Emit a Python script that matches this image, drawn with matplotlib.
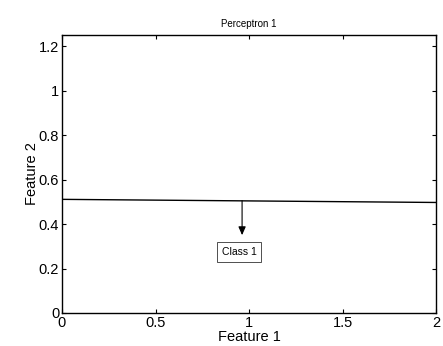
import matplotlib
matplotlib.use('Agg')
import matplotlib.pyplot as plt

plt.rcParams['font.family'] = ['Liberation Sans', 'DejaVu Sans']

# decision boundary end points
line_x = [0, 2]
line_y = [0.511, 0.497]

arrow_start = (0.963, 0.505)
arrow_end = (0.963, 0.35)
label_pos = (0.947, 0.274)
label_text = 'Class 1'

xticks = [0, 0.5, 1, 1.5, 2]
xticklabels = ['0', '0.5', '1', '1.5', '2']
yticks = [0, 0.2, 0.4, 0.6, 0.8, 1, 1.2]
yticklabels = ['0', '0.2', '0.4', '0.6', '0.8', '1', '1.2']

fig = plt.figure(figsize=(4.43, 3.46), dpi=100)
ax = fig.add_axes([62/443, 1 - 313/346, 374/443, 278/346])

ax.plot(line_x, line_y, color='black', linewidth=1)
ax.annotate('', xy=arrow_end, xytext=arrow_start,
            arrowprops=dict(arrowstyle='-|>,head_length=0.5,head_width=0.22', color='black', lw=0.8,
                            mutation_scale=10, shrinkA=0, shrinkB=0))
ax.text(label_pos[0], label_pos[1], label_text, ha='center', va='center', fontsize=7.5,
        bbox=dict(boxstyle='square,pad=0.45', facecolor='white', edgecolor='#333333', linewidth=0.6))

ax.set_xlim(0, 2)
ax.set_ylim(0, 1.25)
ax.set_xticks(xticks)
ax.set_xticklabels(xticklabels)
ax.set_yticks(yticks)
ax.set_yticklabels(yticklabels)
ax.tick_params(direction='in', top=True, right=True, length=3, labelsize=10.5, pad=2)
for s in ax.spines.values():
    s.set_linewidth(1)

ax.set_xlabel('Feature 1', fontsize=10.5, labelpad=0)
ax.set_ylabel('Feature 2', fontsize=10.5, labelpad=0)
ax.set_title('Perceptron 1', fontsize=7, pad=6)

fig.savefig('out.png', dpi=100)
